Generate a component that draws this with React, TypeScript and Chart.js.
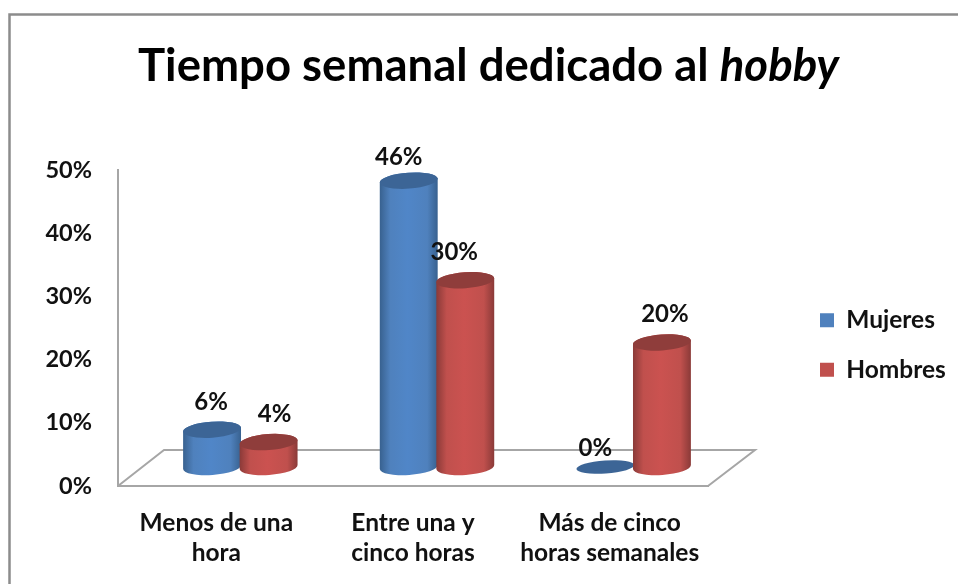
import React, { useEffect, useRef } from "react";
import { Chart, registerables } from "chart.js";

Chart.register(...registerables);

const titleMain = "Tiempo semanal dedicado al";
const titleItalic = "hobby";
const categories = [["Menos de una", "hora"], ["Entre una y", "cinco horas"], ["Más de cinco", "horas semanales"]];
const mujeres = [6, 46, 0];
const hombres = [4, 30, 20];
const seriesNames = ["Mujeres", "Hombres"];
const seriesColors = ["#4f81bd", "#c0504d"];
const seriesBright = ["#5086c8", "#cb5250"];
const seriesDark = ["#3c6596", "#8f3d3b"];
const seriesEdge = ["#38618f", "#8a3a38"];
// hand-placed nudges of the value labels relative to their cylinder top [series][category]
const labelNudgeX = [[-1, -10, -10], [6, -11, 3]];
const labelNudgeY = [[-27, -23, -19], [-28, -28, -28]];

const FONT = "Lato, Carlito, 'Open Sans', sans-serif";
const GRAY = "#a6a6a6";
const DEPTH_X = 46;
const DEPTH_Y = 36;
const BAR_SHIFT_X = 24;
const BAR_SHIFT_Y = 19;
const BAR_OVERLAP = 0.75;
const HEIGHT_RATIO = 0.985;
const TILT = -0.07;
const RY = 8;
const LEGEND_BOX_X = 820;
const LEGEND_SHIFT_Y = 53;
const LEGEND_PADDING = 25;
const RIGHT_GUTTER = 250;

const hobbyPlugin = {
  id: "cylinders",
  beforeDraw(chart: any) {
    const { ctx } = chart;
    ctx.save();
    ctx.strokeStyle = "#8c8c8c";
    ctx.lineWidth = 2.5;
    ctx.beginPath();
    ctx.moveTo(9.5, 584);
    ctx.lineTo(9.5, 14.5);
    ctx.lineTo(958, 14.5);
    ctx.stroke();
    ctx.restore();
  },
  afterLayout(chart: any) {
    chart.titleBlock.left = 138;
    const lg = chart.legend;
    const w = lg.width;
    lg.left = LEGEND_BOX_X - LEGEND_PADDING;
    lg.right = lg.left + w;
    lg.top += LEGEND_SHIFT_Y;
    lg.bottom += LEGEND_SHIFT_Y;
  },
  beforeDatasetsDraw(chart: any) {
    const { ctx, chartArea, scales } = chart;
    const { left, right, bottom } = chartArea;
    ctx.save();
    ctx.strokeStyle = GRAY;
    ctx.lineWidth = 2;
    ctx.beginPath();
    ctx.moveTo(left, bottom);
    ctx.lineTo(left + DEPTH_X, bottom - DEPTH_Y);
    ctx.lineTo(right + DEPTH_X + 1, bottom - DEPTH_Y);
    ctx.lineTo(right, bottom);
    ctx.stroke();

    const zero = scales.y.getPixelForValue(0);
    const base = zero - BAR_SHIFT_Y;
    const drawCyl = (dsIndex: number, i: number) => {
      const el = chart.getDatasetMeta(dsIndex).data[i] as any;
      const cx = el.x + BAR_SHIFT_X;
      const rx = el.width / 2 + BAR_OVERLAP;
      const value = chart.data.datasets[dsIndex].data[i] as number;
      const top = base - (zero - scales.y.getPixelForValue(value)) * HEIGHT_RATIO;
      const ry = value === 0 ? 6.5 : RY;
      if (value > 0) {
        const g = ctx.createLinearGradient(cx - rx, 0, cx + rx, 0);
        g.addColorStop(0, seriesEdge[dsIndex]);
        g.addColorStop(0.18, seriesColors[dsIndex]);
        g.addColorStop(0.48, seriesBright[dsIndex]);
        g.addColorStop(0.82, seriesColors[dsIndex]);
        g.addColorStop(1, seriesEdge[dsIndex]);
        ctx.fillStyle = g;
        ctx.beginPath();
        ctx.ellipse(cx, base, rx, ry, TILT, Math.PI, 0, true);
        ctx.ellipse(cx, top, rx, ry, TILT, 0, Math.PI, true);
        ctx.closePath();
        ctx.fill();
      }
      ctx.fillStyle = seriesDark[dsIndex];
      ctx.beginPath();
      ctx.ellipse(cx, top, rx, ry, TILT, 0, Math.PI * 2);
      ctx.fill();
    };
    categories.forEach((_, i) => {
      drawCyl(0, i);
      drawCyl(1, i);
    });

    ctx.fillStyle = "#111";
    ctx.font = `bold 24px ${FONT}`;
    ctx.textAlign = "center";
    ctx.textBaseline = "middle";
    [0, 1].forEach((ds) => {
      categories.forEach((_, i) => {
        const el = chart.getDatasetMeta(ds).data[i] as any;
        const value = chart.data.datasets[ds].data[i] as number;
        const top = base - (zero - scales.y.getPixelForValue(value)) * HEIGHT_RATIO;
        ctx.fillText(`${value}%`, el.x + BAR_SHIFT_X + labelNudgeX[ds][i], top + labelNudgeY[ds][i]);
      });
    });

    // italic tail of the title, after the upright part drawn by the title plugin
    const t = chart.options.plugins.title;
    ctx.font = `bold ${t.font.size}px ${FONT}`;
    const w = ctx.measureText(titleMain + " ").width;
    ctx.font = `italic bold ${t.font.size}px ${FONT}`;
    ctx.fillStyle = t.color;
    ctx.textAlign = "left";
    ctx.textBaseline = "middle";
    const block = chart.titleBlock;
    ctx.fillText(titleItalic, block.left + w, block.top + t.padding.top + (t.font.size * t.font.lineHeight) / 2);
    ctx.restore();
    return false;
  },
};

export default function App() {
  const ref = useRef<HTMLCanvasElement>(null);
  useEffect(() => {
    const chart = new Chart(ref.current as HTMLCanvasElement, {
      type: "bar",
      data: {
        labels: categories as any,
        datasets: [
          { label: seriesNames[0], data: mujeres, backgroundColor: seriesColors[0] },
          { label: seriesNames[1], data: hombres, backgroundColor: seriesColors[1] },
        ],
      },
      options: {
        responsive: false,
        animation: false,
        layout: { padding: 0 },
        datasets: { bar: { barPercentage: 1, categoryPercentage: 0.575 } },
        plugins: {
          tooltip: { enabled: false },
          title: {
            display: true,
            text: titleMain,
            align: "start",
            color: "#000",
            font: { family: FONT, size: 45.5, weight: "bold", lineHeight: 1.2 },
            padding: { top: 39, bottom: 76.4 },
          },
          legend: {
            position: "right",
            align: "center",
            labels: {
              boxWidth: 14,
              boxHeight: 14,
              padding: LEGEND_PADDING,
              color: "#111",
              font: { family: FONT, size: 24.5, weight: "bold" },
            },
          },
        },
        scales: {
          x: {
            grid: { display: false },
            border: { display: true, color: GRAY, width: 2 },
            afterFit(s: any) { s.height = 98; },
            ticks: {
              color: "#111",
              maxRotation: 0,
              autoSkip: false,
              padding: 14,
              font: { family: FONT, size: 24.5, weight: "bold", lineHeight: 1.22 },
            },
          },
          y: {
            min: 0,
            max: 50,
            grid: { display: false },
            border: { display: true, color: GRAY, width: 2 },
            afterFit(s: any) { s.width = 118; },
            ticks: {
              stepSize: 10,
              color: "#111",
              padding: 18,
              font: { family: FONT, size: 23.5, weight: "bold" },
              callback: (v: any) => `${v}%`,
            },
          },
          y2: {
            position: "right",
            display: true,
            grid: { display: false },
            border: { display: false },
            ticks: { display: false },
            afterFit(s: any) { s.width = RIGHT_GUTTER - (s.chart.legend ? s.chart.legend.width : 0); },
          },
        },
      } as any,
      plugins: [hobbyPlugin as any],
    });
    return () => chart.destroy();
  }, []);
  return (
    <div style={{ position: "absolute", left: 0, top: 0, width: 958, height: 584, background: "#fff" }}>
      <canvas ref={ref} width={958} height={584} style={{ display: "block", filter: "blur(0.4px)" }} />
    </div>
  );
}
